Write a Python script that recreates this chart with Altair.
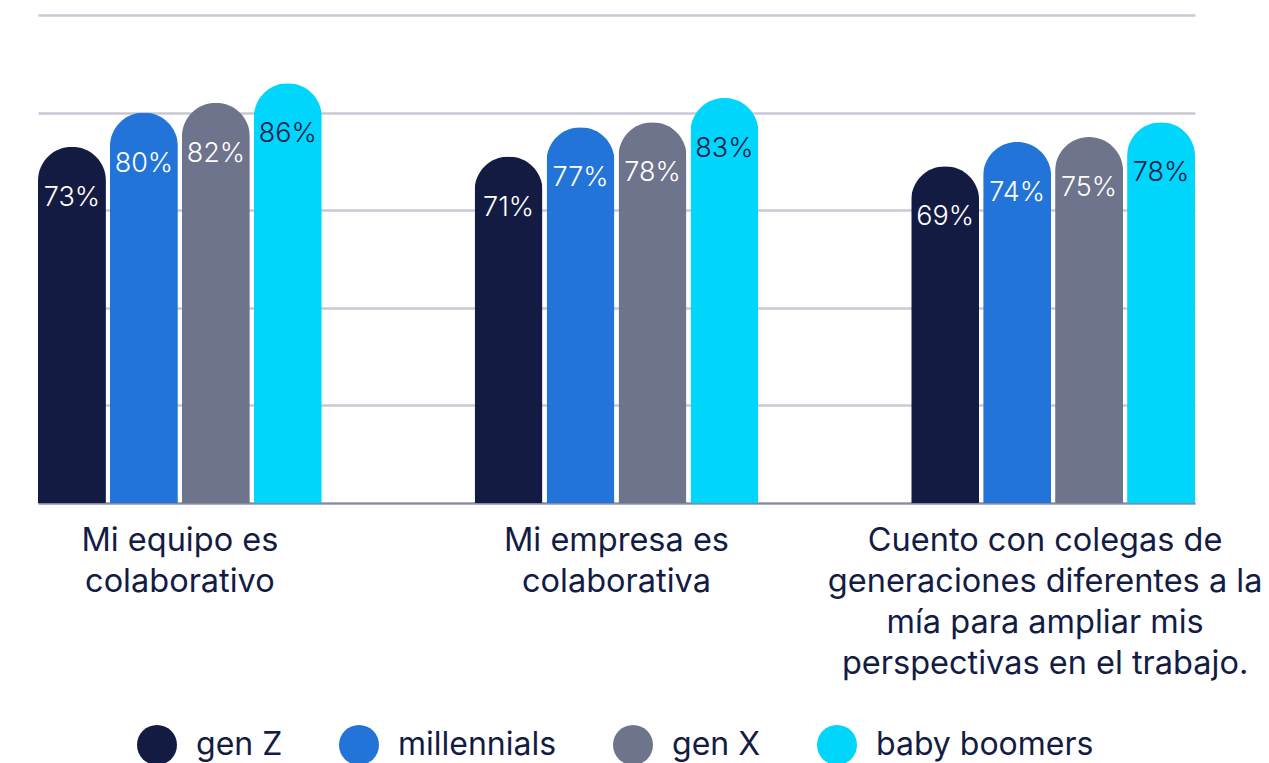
import altair as alt
import pandas as pd

categories = [
    "Mi equipo es\ncolaborativo",
    "Mi empresa es\ncolaborativa",
    "Cuento con colegas de\ngeneraciones diferentes a la\nmía para ampliar mis\nperspectivas en el trabajo.",
]
generations = ["gen Z", "millennials", "gen X", "baby boomers"]
gen_z = [73, 71, 69]
millennials = [80, 77, 74]
gen_x = [82, 78, 75]
baby_boomers = [86, 83, 78]
colors = ["#131b43", "#2374d8", "#6e748c", "#00d5fb"]
grid_values = [0, 20, 40, 60, 80, 100]

rows = []
for g, vals in zip(generations, [gen_z, millennials, gen_x, baby_boomers]):
    for c, v in zip(categories, vals):
        rows.append({"category": c, "gen": g, "value": v, "label": f"{v}%"})
df = pd.DataFrame(rows)

NAVY = "#131c45"

x = alt.X(
    "category:N",
    sort=categories,
    scale=alt.Scale(paddingInner=0.35, paddingOuter=0),
    axis=alt.Axis(
        title=None,
        labelExpr="split(datum.label, '\\n')",
        labelAngle=0,
        labelFontSize=32.5,
        labelLineHeight=41,
        labelColor=NAVY,
        labelFont="Inter",
        labelPadding=21,
        labelBaseline="top",
        labelLimit=800,
        labelOffset={"expr": "datum.index == 1 ? -8 : 0"},
        ticks=False,
        domainColor="#868a9e",
        domainWidth=2,
    ),
)
y = alt.Y(
    "value:Q",
    scale=alt.Scale(domain=[0, 100]),
    axis=alt.Axis(
        title=None,
        labels=False,
        ticks=False,
        domain=False,
        values=grid_values,
        gridColor="#c9c9d6",
        gridWidth=2.5,
    ),
)
xoff = alt.XOffset(
    "gen:N", sort=generations, scale=alt.Scale(paddingInner=0.056, paddingOuter=0)
)

base = alt.Chart(df)

bars = base.mark_bar(cornerRadiusTopLeft=34, cornerRadiusTopRight=34).encode(
    x=x,
    y=y,
    xOffset=xoff,
    color=alt.Color(
        "gen:N",
        sort=generations,
        scale=alt.Scale(domain=generations, range=colors),
        legend=alt.Legend(
            title=None,
            orient="none",
            legendX=99,
            legendY=710,
            direction="horizontal",
            symbolType="circle",
            symbolSize=1600,
            symbolStrokeWidth=0,
            symbolOpacity=1,
            labelFontSize=32,
            labelFont="Inter",
            labelColor=NAVY,
            labelOffset=19,
            columnPadding=56,
            labelLimit=400,
        ),
    ),
)

labels = base.mark_text(dy=51, fontSize=27, font="Inter", fontWeight=300, baseline="middle").encode(
    x=x,
    y=y,
    xOffset=xoff,
    text="label:N",
    color=alt.condition(alt.datum.gen == "baby boomers", alt.value(NAVY), alt.value("white")),
)

chart = (
    alt.layer(bars, labels)
    .properties(
        width=1157,
        height=488,
        autosize="none",
        padding={"left": 30, "top": 7, "right": 66, "bottom": 260},
    )
    .configure_view(stroke=None)
)

chart.save("out.html", embed_options={"renderer": "svg", "actions": False})
